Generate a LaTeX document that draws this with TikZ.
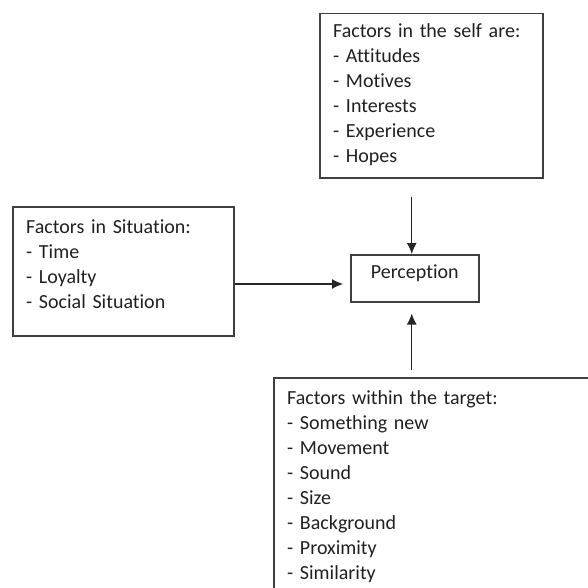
\documentclass[tikz,border=0pt]{standalone}
\usepackage{fontspec}
\setmainfont{Carlito}[Ligatures={NoCommon}]
\usetikzlibrary{arrows.meta,positioning}

\definecolor{framegray}{HTML}{3F3F3F}
\definecolor{textgray}{HTML}{202020}

\begin{document}
\begin{tikzpicture}[x=1pt,y=-1pt,
  box/.style={draw=framegray, line width=1.5pt, anchor=north west, inner sep=0pt},
  items/.style={anchor=base west, inner sep=0pt, text width=#1, align=left,
    text=textgray, font=\fontsize{20}{25}\selectfont},
  flowarrow/.style={-{Latex[length=11pt,width=10pt]}, line width=1.2pt, draw=black!85}]
\useasboundingbox (0,0) rectangle (587,588);

% Factors in the self
\node[box, minimum width=223pt, minimum height=164pt] (self) at (319,13) {};
\node[items=200pt] (selflist) at (333,38)
  {Factors in the self are:\\- Attitudes\\- Motives\\- Interests\\- Experience\\- Hopes};

% Factors in situation
\node[box, minimum width=221pt, minimum height=129pt] (situation) at (12,206) {};
\node[items=200pt] (situationlist) at (26,233)
  {Factors in Situation:\\- Time\\- Loyalty\\- Social Situation};

% Perception
\node[box, minimum width=128pt, minimum height=47pt, text height=24pt, text depth=23pt,
  text=textgray, font=\fontsize{20}{25}\selectfont] (percept) at (350,254) {Perception};

% Factors within the target (runs past the page)
\node[box, minimum width=340pt, minimum height=240pt] (target) at (273,377) {};
\node[items=280pt] (targetlist) at (287,404)
  {Factors within the target:\\- Something new\\- Movement\\- Sound\\- Size\\- Background\\- Proximity\\- Similarity};

% Arrows
\coordinate (flow) at (0,284);
\draw[flowarrow, shorten <=18pt] ([xshift=-3pt]self.south -| percept.north) -- ([xshift=-3pt]percept.north);
\draw[flowarrow, shorten >=7pt] (situation.east |- flow) -- (percept.west |- flow);
\draw[flowarrow, shorten <=7pt, shorten >=11pt] ([xshift=-3pt]target.north -| percept.south) -- ([xshift=-3pt]percept.south);
\end{tikzpicture}
\end{document}
